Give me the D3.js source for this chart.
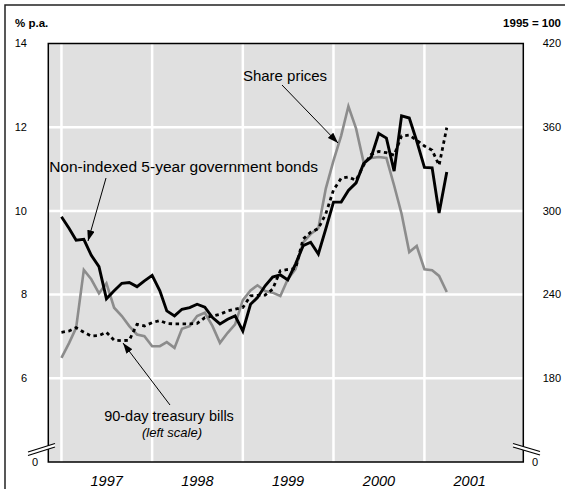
<!DOCTYPE html>
<html>
<head>
<meta charset="utf-8">
<script src="https://cdn.jsdelivr.net/npm/d3@7"></script>
<style>
  html, body { margin: 0; padding: 0; background: #fff; }
  svg { display: block; }
  text { font-family: "Liberation Sans", Arial, Helvetica, sans-serif; fill: #000; }
</style>
</head>
<body>
<svg id="chart" width="565" height="489"></svg>
<script>
// ---------------- data ----------------
const startMonth = "1997-01";
const endMonth = "2001-04";
// Non-indexed 5-year government bonds (% p.a., left scale)
const bonds = [
  9.86, 9.58, 9.30, 9.32, 8.94, 8.67, 7.90, 8.09, 8.27, 8.29, 8.19, 8.33,
  8.46, 8.09, 7.61, 7.49, 7.65, 7.69, 7.77, 7.70, 7.45, 7.30, 7.41, 7.49,
  7.13, 7.77, 7.93, 8.21, 8.42, 8.47, 8.35, 8.73, 9.17, 9.25, 8.97, 9.57,
  10.21, 10.21, 10.49, 10.67, 11.13, 11.29, 11.85, 11.74, 10.95, 12.27, 12.22, 11.67,
  11.04, 11.03, 9.95, 10.93
];
// 90-day treasury bills (% p.a., left scale)
const bills = [
  7.10, 7.13, 7.21, 7.10, 7.01, 7.02, 7.10, 6.91, 6.90, 6.91, 7.29, 7.25,
  7.33, 7.38, 7.31, 7.30, 7.30, 7.30, 7.31, 7.45, 7.49, 7.53, 7.61, 7.65,
  7.69, 7.97, 7.98, 7.99, 8.13, 8.57, 8.60, 8.62, 9.33, 9.49, 9.58, 9.93,
  10.50, 10.78, 10.81, 10.73, 11.09, 11.35, 11.42, 11.39, 11.33, 11.79, 11.81, 11.69,
  11.55, 11.45, 11.09, 11.99
];
// Share prices (1995 = 100, right scale)
const shares = [
  194.6, 205.4, 216.2, 257.7, 251.0, 240.9, 248.1, 230.6, 224.6, 217.4, 211.4, 210.2,
  203.0, 203.0, 205.9, 201.8, 215.5, 217.4, 224.6, 227.0, 217.4, 205.4, 212.6, 218.6,
  236.0, 243.0, 246.7, 242.6, 241.4, 239.0, 251.0, 258.2, 277.4, 283.4, 287.5, 316.0,
  336.0, 354.0, 375.0, 359.0, 335.0, 337.9, 338.6, 337.9, 318.2, 298.0, 270.5, 274.8,
  258.2, 257.5, 253.4, 241.9
];
const yearLabels = ["1997", "1998", "1999", "2000", "2001"];
const leftTicks = [6, 8, 10, 12, 14];
const rightTicks = [180, 240, 300, 360, 420];
const leftUnit = "% p.a.";
const rightUnit = "1995 = 100";

// ---------------- layout ----------------
const svg = d3.select("#chart");
const P = { left: 48.3, right: 523.3, top: 43.5, bottom: 462 };

const parseM = d3.timeParse("%Y-%m");
const months = d3.timeMonth.range(parseM(startMonth), d3.timeMonth.offset(parseM(endMonth), 1));

const x = d3.scaleTime()
  .domain([new Date(1996, 10, 9), new Date(2002, 1, 3)])
  .range([P.left, P.right]);
const yL = d3.scaleLinear().domain([4, 14]).range([P.bottom, P.top]);
const yR = d3.scaleLinear().domain([120, 420]).range([P.bottom, P.top]);

// outer frame (open to right / bottom)
svg.append("path")
  .attr("d", "M5,495 L5,5 L570,5")
  .attr("fill", "none").attr("stroke", "#222").attr("stroke-width", 1.5);

// plot background
svg.append("rect")
  .attr("x", P.left).attr("y", P.top)
  .attr("width", P.right - P.left).attr("height", P.bottom - P.top)
  .attr("fill", "#e0e0e0");

// gridlines
const g = svg.append("g");
const yearStarts = yearLabels.map(y => new Date(+y, 0, 1));
g.selectAll("line.v").data(yearStarts).join("line")
  .attr("x1", d => x(d)).attr("x2", d => x(d))
  .attr("y1", P.top).attr("y2", P.bottom)
  .attr("stroke", "#fff").attr("stroke-width", 2.5);
g.selectAll("line.h").data(leftTicks.filter(t => t < 14)).join("line")
  .attr("x1", P.left).attr("x2", P.right)
  .attr("y1", d => yL(d)).attr("y2", d => yL(d))
  .attr("stroke", "#fff").attr("stroke-width", 2.5);

// series lines
const lineL = d3.line().x((d, i) => x(months[i])).y(d => yL(d));
const lineR = d3.line().x((d, i) => x(months[i])).y(d => yR(d));

svg.append("path").datum(shares).attr("d", lineR)
  .attr("fill", "none").attr("stroke", "#8c8c8c").attr("stroke-width", 2.6)
  .attr("stroke-linejoin", "miter");
svg.append("path").datum(bonds).attr("d", lineL)
  .attr("fill", "none").attr("stroke", "#000").attr("stroke-width", 2.9)
  .attr("stroke-linejoin", "miter");
svg.append("path").datum(bills).attr("d", lineL)
  .attr("fill", "none").attr("stroke", "#000").attr("stroke-width", 2.8)
  .attr("stroke-dasharray", "3.5,3.5");

// plot border
svg.append("rect")
  .attr("x", P.left).attr("y", P.top)
  .attr("width", P.right - P.left).attr("height", P.bottom - P.top)
  .attr("fill", "none").attr("stroke", "#000").attr("stroke-width", 1.5);

// axis breaks
function brk(pts1, pts2) {
  svg.append("polygon")
    .attr("points", [pts1[0], pts1[1], pts2[1], pts2[0]].map(p => p.join(",")).join(" "))
    .attr("fill", "#fff");
  [pts1, pts2].forEach(p => svg.append("line")
    .attr("x1", p[0][0]).attr("y1", p[0][1]).attr("x2", p[1][0]).attr("y2", p[1][1])
    .attr("stroke", "#000").attr("stroke-width", 1.2));
}
brk([[28, 452], [55, 443.5]], [[28, 455.5], [55, 447]]);
brk([[513, 443.5], [540, 451.5]], [[513, 447], [540, 455]]);

// tick labels
const tickFont = 11;
svg.selectAll("text.lt").data(leftTicks).join("text")
  .attr("x", 27).attr("y", d => yL(d)).attr("dy", "0.35em")
  .attr("text-anchor", "end").attr("font-size", tickFont).text(d => d);
svg.selectAll("text.rt").data(rightTicks).join("text")
  .attr("x", 561).attr("y", d => yR(d)).attr("dy", "0.35em")
  .attr("text-anchor", "end").attr("font-size", tickFont).text(d => d);
svg.append("text").attr("x", 35).attr("y", P.bottom).attr("dy", "0.35em")
  .attr("text-anchor", "middle").attr("font-size", tickFont).text("0");
svg.append("text").attr("x", 535).attr("y", P.bottom).attr("dy", "0.35em")
  .attr("text-anchor", "middle").attr("font-size", tickFont).text("0");

// unit labels
svg.append("text").attr("x", 15).attr("y", 27)
  .attr("font-size", 11.5).attr("font-weight", "bold").text(leftUnit);
svg.append("text").attr("x", 561).attr("y", 27).attr("text-anchor", "end")
  .attr("font-size", 11.5).attr("font-weight", "bold").text(rightUnit);

// year labels
svg.selectAll("text.yr").data(yearLabels).join("text")
  .attr("x", d => x(new Date(+d, 6, 2))).attr("y", 486)
  .attr("text-anchor", "middle").attr("font-size", 14.5).attr("font-style", "italic")
  .text(d => d);

// annotations
const defs = svg.append("defs");
defs.append("marker").attr("id", "ah")
  .attr("viewBox", "0 0 10 7").attr("refX", 10).attr("refY", 3.5)
  .attr("markerWidth", 11).attr("markerHeight", 7.5)
  .attr("markerUnits", "userSpaceOnUse").attr("orient", "auto")
  .append("path").attr("d", "M0,0 L10,3.5 L0,7 Z").attr("fill", "#000");

function arrow(x1, y1, x2, y2) {
  svg.append("line").attr("x1", x1).attr("y1", y1).attr("x2", x2).attr("y2", y2)
    .attr("stroke", "#000").attr("stroke-width", 1).attr("marker-end", "url(#ah)");
}
const annFont = 15;
svg.append("text").attr("x", 285).attr("y", 81).attr("text-anchor", "middle")
  .attr("font-size", annFont).text("Share prices");
arrow(282, 85, 338, 143);

svg.append("text").attr("x", 318).attr("y", 172).attr("text-anchor", "end")
  .attr("font-size", 15.5).text("Non-indexed 5-year government bonds");
arrow(106, 178, 88, 241);

svg.append("text").attr("x", 169).attr("y", 421).attr("text-anchor", "middle")
  .attr("font-size", 14.5).text("90-day treasury bills");
svg.append("text").attr("x", 172).attr("y", 437).attr("text-anchor", "middle")
  .attr("font-size", 13).attr("font-style", "italic").text("(left scale)");
arrow(170, 405, 123, 343);
</script>
</body>
</html>
